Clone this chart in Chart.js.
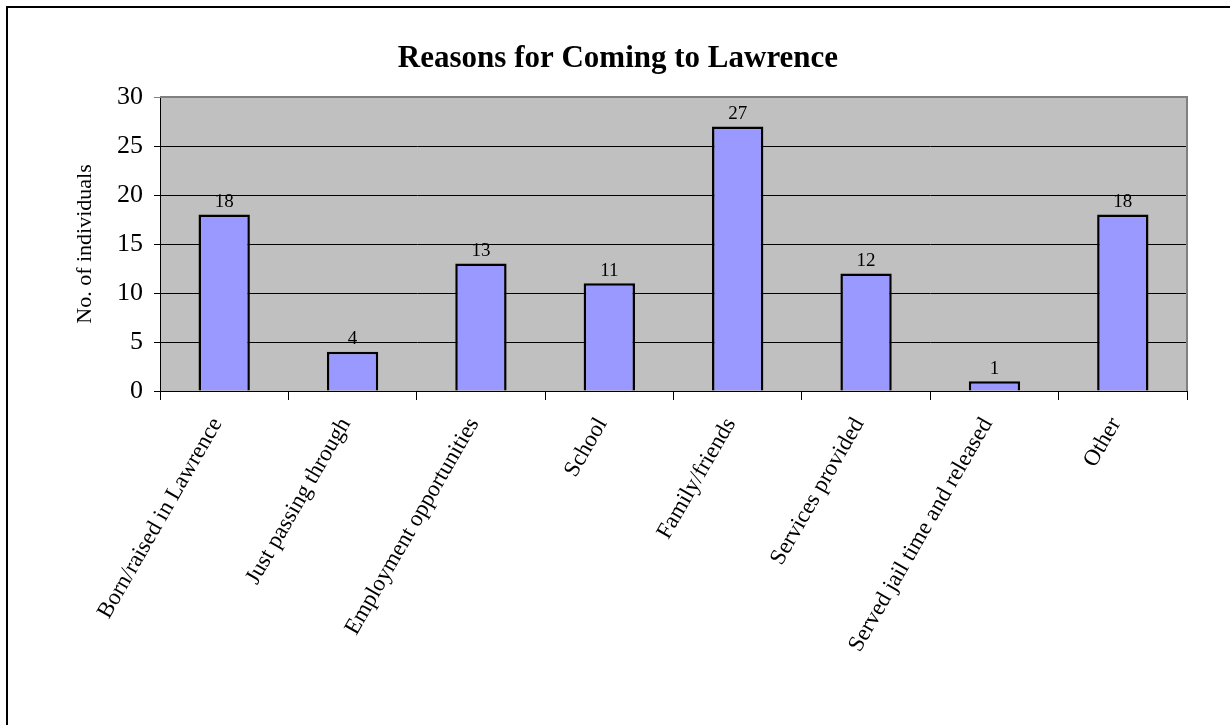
<!DOCTYPE html>
<html>
<head>
<meta charset="utf-8">
<script src="https://cdn.jsdelivr.net/npm/chart.js@4.4.1/dist/chart.umd.min.js"></script>
<style>
  html, body { margin: 0; padding: 0; background: #fff; overflow: hidden; }
  #wrap { position: relative; width: 1230px; height: 725px; }
  #frame { position: absolute; left: 6px; top: 6px; width: 1300px; height: 800px;
           border: 2px solid #000; box-sizing: border-box; pointer-events: none; }
  canvas { position: absolute; left: 0; top: 0; }
</style>
</head>
<body>
<div id="wrap">
  <canvas id="chart" width="1230" height="725"></canvas>
  <div id="frame"></div>
</div>
<script>
const categories = [
  "Born/raised in Lawrence",
  "Just passing through",
  "Employment opportunities",
  "School",
  "Family/friends",
  "Services provided",
  "Served jail time and released",
  "Other"
];
const counts = [18, 4, 13, 11, 27, 12, 1, 18];
const yTicks = [0, 5, 10, 15, 20, 25, 30];

const chartTitle = "Reasons for Coming to Lawrence";
const yTitle = "No. of individuals";
const serif = "'Liberation Serif', 'Times New Roman', serif";

// grey plot background plus grey top/right edge
const plotBg = {
  id: "plotBg",
  beforeDraw(chart) {
    const { ctx, chartArea: a } = chart;
    ctx.save();
    ctx.fillStyle = "#c0c0c0";
    ctx.fillRect(a.left, a.top, a.right - a.left, a.bottom - a.top);
    ctx.restore();
  },
  afterDraw(chart) {
    const { ctx, chartArea: a } = chart;
    ctx.save();
    ctx.strokeStyle = "#808080";
    ctx.lineWidth = 2;
    ctx.beginPath();
    ctx.moveTo(a.left, a.top);
    ctx.lineTo(a.right, a.top);
    ctx.lineTo(a.right, a.bottom);
    ctx.stroke();
    ctx.restore();
  }
};

// values above each bar
const valueLabels = {
  id: "valueLabels",
  afterDatasetsDraw(chart) {
    const { ctx } = chart;
    const meta = chart.getDatasetMeta(0);
    ctx.save();
    ctx.font = "19px " + serif;
    ctx.fillStyle = "#000";
    ctx.textAlign = "center";
    ctx.textBaseline = "bottom";
    meta.data.forEach((bar, i) => {
      ctx.fillText(String(counts[i]), bar.x, bar.y - 3);
    });
    ctx.restore();
  }
};

// title centred on the frame rather than the canvas
const titleText = {
  id: "titleText",
  afterDraw(chart) {
    const { ctx } = chart;
    ctx.save();
    ctx.font = "bold 31px " + serif;
    ctx.fillStyle = "#000";
    ctx.textAlign = "center";
    ctx.textBaseline = "middle";
    ctx.fillText(chartTitle, 618, 59);
    ctx.restore();
  }
};

new Chart(document.getElementById("chart"), {
  type: "bar",
  data: {
    labels: categories,
    datasets: [{
      data: counts,
      backgroundColor: "#9999ff",
      borderColor: "#000",
      borderWidth: 2.5,
      barPercentage: 0.4,
      categoryPercentage: 1.0
    }]
  },
  options: {
    responsive: false,
    animation: false,
    layout: { padding: { top: 97, right: 43, left: 0, bottom: 0 } },
    plugins: {
      legend: { display: false },
      title: { display: false },
      tooltip: { enabled: false }
    },
    scales: {
      x: {
        afterFit: s => { s.height = 334; },
        grid: { drawOnChartArea: false, drawTicks: true, tickLength: 9, color: "#000", lineWidth: 1 },
        border: { display: true, color: "#000", width: 1 },
        ticks: {
          color: "#000",
          font: { family: serif, size: 23 },
          maxRotation: 60,
          minRotation: 60,
          padding: 13,
          labelOffset: -7,
          autoSkip: false
        }
      },
      y: {
        min: 0,
        max: 30,
        afterFit: s => { s.width = 160; },
        afterBuildTicks: s => { s.ticks = yTicks.map(v => ({ value: v })); },
        grid: {
          color: ctx => (ctx.tick && ctx.tick.value === 30 ? "#808080" : "#000"),
          lineWidth: 1,
          drawTicks: true,
          tickLength: 6
        },
        border: { display: true, color: "#000", width: 1 },
        ticks: {
          color: "#000",
          font: { family: serif, size: 26 },
          padding: 11
        },
        title: {
          display: true,
          text: yTitle,
          color: "#000",
          font: { family: serif, size: 22 },
          padding: { top: 72, bottom: 0 }
        }
      }
    }
  },
  plugins: [plotBg, valueLabels, titleText]
});
</script>
</body>
</html>
